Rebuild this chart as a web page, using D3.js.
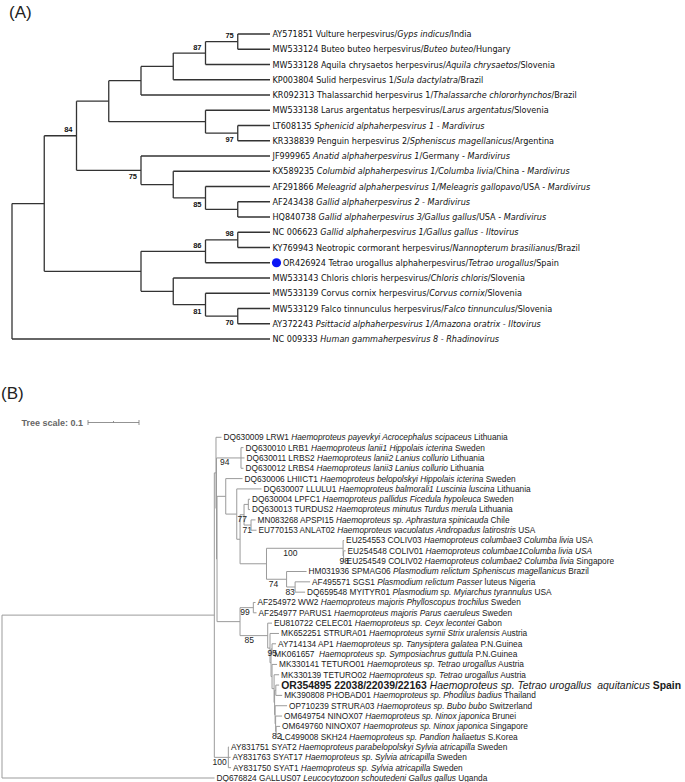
<!DOCTYPE html>
<html>
<head>
<meta charset="utf-8">
<script src="https://cdn.jsdelivr.net/npm/d3@7"></script>
<style>
  body { margin: 0; background: #fff; }
</style>
</head>
<body>
<div class="canvas"></div>
<script>
// ---------- panel A : cladogram, bootstrap values as node names ----------
const treeA = "((((((((AY571851,MW533124)75,MW533128)87,KP003804),KR092313),(MW533138,(LT608135,KR338839)97)),(JF999965,(KX589235,(AF291866,(AF243438,HQ840738))85))75)84,(((NC006623,KY769943)98,OR426924)86,(MW533143,(MW533139,(MW533129,AY372243)70)81))),NC009333);";

// |...| = italic
const labelsA = [
  "AY571851 Vulture herpesvirus/|Gyps indicus|/India",
  "MW533124 Buteo buteo herpesvirus/|Buteo buteo|/Hungary",
  "MW533128 Aquila chrysaetos herpesvirus/|Aquila chrysaetos|/Slovenia",
  "KP003804 Sulid herpesvirus 1/|Sula dactylatra|/Brazil",
  "KR092313 Thalassarchid herpesvirus 1/|Thalassarche chlororhynchos|/Brazil",
  "MW533138 Larus argentatus herpesvirus/|Larus argentatus|/Slovenia",
  "LT608135 |Sphenicid alphaherpesvirus 1 - Mardivirus|",
  "KR338839 Penguin herpesvirus 2/|Spheniscus magellanicus|/Argentina",
  "JF999965 |Anatid alphaherpesvirus 1|/Germany - |Mardivirus|",
  "KX589235 |Columbid alphaherpesvirus 1/Columba livia|/China - |Mardivirus|",
  "AF291866 |Meleagrid alphaherpesvirus 1/Meleagris gallopavo|/USA - |Mardivirus|",
  "AF243438 |Gallid alphaherpesvirus 2 - Mardivirus|",
  "HQ840738 |Gallid alphaherpesvirus 3/Gallus gallus|/USA - |Mardivirus|",
  "NC 006623 |Gallid alphaherpesvirus 1/Gallus gallus - Iltovirus|",
  "KY769943 Neotropic cormorant herpesvirus/|Nannopterum brasilianus|/Brazil",
  "OR426924 Tetrao urogallus alphaherpesvirus/|Tetrao urogallus|/Spain",
  "MW533143 Chloris chloris herpesvirus/|Chloris chloris|/Slovenia",
  "MW533139 Corvus cornix herpesvirus/|Corvus cornix|/Slovenia",
  "MW533129 Falco tinnunculus herpesvirus/|Falco tinnunculus|/Slovenia",
  "AY372243 |Psittacid alphaherpesvirus 1/Amazona oratrix - Iltovirus|",
  "NC 009333 |Human gammaherpesvirus 8 - Rhadinovirus|"
];
const markedA = ["OR426924"];

// ---------- panel B : phylogram, branch lengths in substitutions/site ----------
const cladeL = "(OM649754:0.0127,(OM649760:0.0078,LC499008:0.0039)82:0.001)";
const cladeK = "(OP710239:0.0235," + cladeL + ":0.001)";
const cladeJ = "((OR354895:0.0065,MK390808:0.0124):0.0024," + cladeK + ":0.001)";
const cladeI = "(MK330139:0.0098," + cladeJ + ":0.001)";
const cladeH = "(MK330141:0.0098," + cladeI + ":0.004)";
const cladeG = "((AY714134:0.0078,MK061657:0.0006)95:0.002," + cladeH + ":0.002)";
const cladeF = "(MK652251:0.0176," + cladeG + ":0.002)";
const clade85 = "(EU810722:0.0084," + cladeF + ":0.0045)85";
const cladeE = "((AF254972:0.0043,AF254977:0.0063)99:0.0261," + clade85 + ":0.0543)";
const cladeP = "((EU254553:0.002,(EU254548:0.0039,EU254549:0.002)98:0.001)100:0.1502,(HM031936:0.0392,(AF495571:0.0294,DQ659548:0.0196)83:0.0167)74:0.0394)";
const clade77 = "((DQ630004:0.0033,DQ630013:0.0033):0.0084,(MN083268:0.0088,EU770153:0.0108)71:0.0137)77";
const cladeN6 = "(" + clade77 + ":0.0078," + cladeP + ":0.0518)";
const cladeN5 = "(DQ630007:0.0486," + cladeN6 + ":0.0065)";
const cladeN4 = "(DQ630006:0.0329," + cladeN5 + ":0.0216)";
const cladeC = "(" + cladeN4 + ":0.0171," + cladeE + ":0.0451)";
const clade94 = "(DQ630010:0.0049,DQ630011:0.0069,DQ630012:0.0049)94";
const cladeB = "(" + clade94 + ":0.048," + cladeC + ":0.001)";
const cladeA = "(DQ630009:0.0108," + cladeB + ":0.001)";
const cladeSyat = "(AY831751:0.0014,AY831763:0.0043,AY831750:0.0053)100";
const treeB = "((" + cladeA + ":0.0033," + cladeSyat + ":0.0275):0.4163,DQ676824:0.4167);";

// |...| = italic, ^...^ = bold
const labelsB = [
  "DQ630009 LRW1 |Haemoproteus payevkyi Acrocephalus scipaceus| Lithuania",
  "DQ630010 LRB1 |Haemoproteus lanii1 Hippolais icterina| Sweden",
  "DQ630011 LRBS2 |Haemoproteus lanii2 Lanius collurio| Lithuania",
  "DQ630012 LRBS4 |Haemoproteus lanii3 Lanius collurio| Lithuania",
  "DQ630006 LHIICT1 |Haemoproteus belopolskyi Hippolais icterina| Sweden",
  "DQ630007 LLULU1 |Haemoproteus balmorali1 Luscinia luscina| Lithuania",
  "DQ630004 LPFC1 |Haemoproteus pallidus Ficedula hypoleuca| Sweden",
  "DQ630013 TURDUS2 |Haemoproteus minutus Turdus merula| Lithuania",
  "MN083268 APSPI15 |Haemoproteus sp. Aphrastura spinicauda| Chile",
  "EU770153 ANLAT02 |Haemoproteus vacuolatus Andropadus latirostris| USA",
  "EU254553 COLIV03 |Haemoproteus columbae3 Columba livia| USA",
  "EU254548 COLIV01 |Haemoproteus columbae1Columba livia USA|",
  "EU254549 COLIV02 |Haemoproteus columbae2 Columba livia| Singapore",
  "HM031936 SPMAG06 |Plasmodium relictum Spheniscus magellanicus| Brazil",
  "AF495571 SGS1 |Plasmodium relictum Passer| luteus Nigeria",
  "DQ659548 MYITYR01 |Plasmodium sp. Myiarchus tyrannulus| USA",
  "AF254972 WW2 |Haemoproteus majoris Phylloscopus trochilus| Sweden",
  "AF254977 PARUS1 |Haemoproteus majoris Parus caeruleus| Sweden",
  "EU810722 CELEC01 |Haemoproteus sp. Ceyx lecontei| Gabon",
  "MK652251 STRURA01 |Haemoproteus syrnii Strix uralensis| Austria",
  "AY714134 AP1 |Haemoproteus sp. Tanysiptera galatea| P.N.Guinea",
  "MK061657\u00a0 |Haemoproteus sp. Symposiachrus guttula| P.N.Guinea",
  "MK330141 TETURO01 |Haemoproteus sp. Tetrao urogallus| Austria",
  "MK330139 TETURO02 |Haemoproteus sp. Tetrao urogallus| Austria",
  "^OR354895 22038/22039/22163^ |Haemoproteus sp. Tetrao urogallus\u00a0 aquitanicus| ^Spain^",
  "MK390808 PHOBAD01 |Haemoproteus sp. Phodilus badius| Thailand",
  "OP710239 STRURA03 |Haemoproteus sp. Bubo bubo| Switzerland",
  "OM649754 NINOX07 |Haemoproteus sp. Ninox japonica| Brunei",
  "OM649760 NINOX07 |Haemoproteus sp. Ninox japonica| Singapore",
  "LC499008 SKH24 |Haemoproteus sp. Pandion haliaetus| S.Korea",
  "AY831751 SYAT2 |Haemoproteus parabelopolskyi Sylvia atricapilla| Sweden",
  "AY831763 SYAT17 |Haemoproteus sp. Sylvia atricapilla| Sweden",
  "AY831750 SYAT1 |Haemoproteus sp. Sylvia atricapilla| Sweden",
  "DQ676824 GALLUS07 |Leucocytozoon schoutedeni Gallus gallus| Uganda"
];
const highlightB = ["OR354895"];
const scaleLength = 0.1;

// ---------- helpers ----------
function parseNewick(s) {
  let i = 0;
  function node() {
    const n = { children: [] };
    if (s[i] === '(') {
      i++;
      n.children.push(node());
      while (s[i] === ',') { i++; n.children.push(node()); }
      i++;
    }
    let name = '';
    while (i < s.length && !',():;'.includes(s[i])) name += s[i++];
    n.name = name.trim();
    if (s[i] === ':') {
      i++;
      let len = '';
      while (i < s.length && !',();'.includes(s[i])) len += s[i++];
      n.length = +len;
    }
    if (!n.children.length) delete n.children;
    return n;
  }
  return node();
}

function addSegments(text, str) {
  let italic = false, bold = false, buf = '';
  const flush = () => {
    if (!buf) return;
    text.append('tspan')
      .attr('font-style', italic ? 'italic' : 'normal')
      .attr('font-weight', bold ? 'bold' : 'normal')
      .text(buf);
    buf = '';
  };
  for (const ch of str) {
    if (ch === '|') { flush(); italic = !italic; }
    else if (ch === '^') { flush(); bold = !bold; }
    else buf += ch;
  }
  flush();
}

function elbows(g, root, color, width) {
  g.selectAll('path.h')
    .data(root.links())
    .join('path')
    .attr('d', l => `M${l.source.x},${l.target.y}H${l.target.x}`)
    .attr('fill', 'none')
    .attr('stroke', color)
    .attr('stroke-width', width);
  g.selectAll('path.v')
    .data(root.descendants().filter(d => d.children))
    .join('path')
    .attr('d', d => `M${d.x},${d.children[0].y}V${d.children[d.children.length - 1].y}`)
    .attr('fill', 'none')
    .attr('stroke', color)
    .attr('stroke-width', width);
}

// ---------- svg ----------
const svg = d3.select('.canvas').append('svg')
  .attr('width', 685)
  .attr('height', 782)
  .style('font-family', "Arial, 'Liberation Sans', sans-serif");

svg.append('rect').attr('width', 685).attr('height', 782).attr('fill', '#fff');

// panel letters
svg.append('text').text('(A)').attr('x', 9).attr('y', 18)
  .attr('font-size', 17).attr('fill', '#222');
svg.append('text').text('(B)').attr('x', 1).attr('y', 399)
  .attr('font-size', 17).attr('fill', '#222');

// ===== panel A =====
const rootA = d3.hierarchy(parseNewick(treeA));
const leavesA = rootA.leaves();
const xA = d3.scaleLinear().domain([0, rootA.height]).range([12, 270]);
const yA = d3.scaleLinear().domain([0, leavesA.length - 1]).range([34, 339]);

leavesA.forEach((d, i) => { d.y = yA(i); });
rootA.eachAfter(d => {
  d.x = xA(rootA.height - d.height);
  if (d.children) d.y = (d.children[0].y + d.children[d.children.length - 1].y) / 2;
});

const gA = svg.append('g');
elbows(gA, rootA, '#333', 1.3);

// bootstrap values
gA.selectAll('text.boot')
  .data(rootA.descendants().filter(d => d.children && d.data.name))
  .join('text')
  .attr('class', 'boot')
  .attr('x', d => d.x - 4)
  .attr('y', d => d.parent.children[0] === d ? d.y - 3.5 : d.y + 9)
  .attr('text-anchor', 'end')
  .attr('font-size', 7.5)
  .attr('font-weight', 'bold')
  .attr('fill', '#111')
  .text(d => d.data.name);

// tip markers
gA.selectAll('circle.mark')
  .data(leavesA.filter(d => markedA.includes(d.data.name)))
  .join('circle')
  .attr('cx', d => d.x + 6.5)
  .attr('cy', d => d.y)
  .attr('r', 4.6)
  .attr('fill', '#0b16f5');

// tip labels
gA.selectAll('text.tip')
  .data(leavesA)
  .join('text')
  .attr('class', 'tip')
  .attr('x', (d) => d.x + (markedA.includes(d.data.name) ? 13 : 2.5))
  .attr('y', d => d.y)
  .attr('dy', '0.35em')
  .attr('font-size', 9)
  .attr('font-family', "'Liberation Sans Narrow', 'Arial Narrow', 'DejaVu Sans Condensed', sans-serif")
  .attr('fill', '#111')
  .each(function (d, i) { addSegments(d3.select(this), labelsA[i]); });

// ===== panel B =====
const rootB = d3.hierarchy(parseNewick(treeB));
const leavesB = rootB.leaves();
const xB = d3.scaleLinear().domain([0, scaleLength]).range([2, 53]);
const yB = d3.scaleLinear().domain([0, leavesB.length - 1]).range([437.3, 778]);

rootB.eachBefore(d => { d.dist = d.parent ? d.parent.dist + (d.data.length || 0) : 0; d.x = xB(d.dist); });
leavesB.forEach((d, i) => { d.y = yB(i); });
rootB.eachAfter(d => {
  if (d.children) d.y = (d.children[0].y + d.children[d.children.length - 1].y) / 2;
});

const gB = svg.append('g');
elbows(gB, rootB, '#9b9b9b', 1);

// scale bar
const sbLen = xB(scaleLength) - xB(0);
const sb = svg.append('g').attr('transform', 'translate(88,422.5)');
sb.append('path')
  .attr('d', `M0,-2.5V2.5M0,0H${sbLen}M${sbLen},-2.5V2.5M${sbLen / 2},0V-1.5`)
  .attr('stroke', '#777').attr('fill', 'none').attr('stroke-width', 0.8);
svg.append('text').text('Tree scale: ' + scaleLength)
  .attr('x', 83).attr('y', 425.5).attr('text-anchor', 'end')
  .attr('font-size', 9).attr('font-weight', 'bold').attr('fill', '#666');

// bootstrap values, under the branch
gB.selectAll('text.boot')
  .data(rootB.descendants().filter(d => d.children && d.data.name))
  .join('text')
  .attr('x', d => d.parent.x + 0.3 * (d.x - d.parent.x) + 1)
  .attr('y', d => d.y + 7.5)
  .attr('text-anchor', 'middle')
  .attr('font-size', 8.5)
  .attr('fill', '#222')
  .text(d => d.data.name);

// tip labels
gB.selectAll('text.tip')
  .data(leavesB)
  .join('text')
  .attr('x', d => d.x + 2)
  .attr('y', d => d.y)
  .attr('dy', '0.35em')
  .attr('font-size', d => highlightB.includes(d.data.name) ? 10.4 : 8.3)
  .attr('fill', '#1a1a1a')
  .each(function (d, i) { addSegments(d3.select(this), labelsB[i]); });
</script>
</body>
</html>
